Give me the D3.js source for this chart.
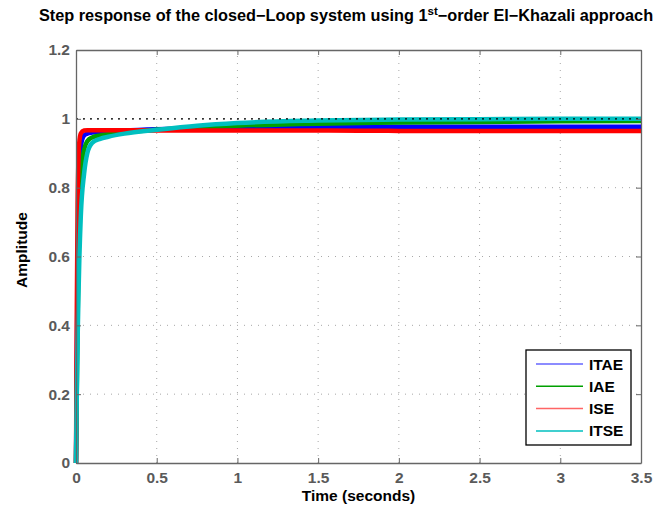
<!DOCTYPE html>
<html>
<head>
<meta charset="utf-8">
<script src="https://cdn.jsdelivr.net/npm/d3@7"></script>
<style>
body{margin:0;background:#fff;}
text{font-family:"Liberation Sans",Arial,Helvetica,sans-serif;font-weight:bold;}
</style>
</head>
<body>
<script>
var time  = [0,0.005,0.01,0.015,0.02,0.03,0.05,0.07,0.1,0.15,0.2,0.3,0.5,0.75,1,1.5,2,2.5,3,3.5];
var itae  = [0,0.30,0.55,0.72,0.83,0.92,0.952,0.957,0.96,0.962,0.963,0.966,0.970,0.973,0.975,0.976,0.977,0.977,0.977,0.977];
var iae   = [0,0.22,0.42,0.58,0.69,0.82,0.91,0.935,0.946,0.952,0.955,0.960,0.968,0.975,0.980,0.986,0.989,0.991,0.993,0.994];
var ise   = [0,0.45,0.75,0.88,0.93,0.958,0.966,0.967,0.967,0.967,0.967,0.967,0.966,0.966,0.966,0.966,0.965,0.965,0.965,0.965];
var itse  = [0,0.20,0.36,0.48,0.58,0.72,0.84,0.90,0.93,0.942,0.948,0.957,0.968,0.980,0.988,0.995,0.998,0.999,1.0,1.0];
var names = ["ITAE","IAE","ISE","ITSE"];
var colors = ["#0000ff","#00a000","#ff0000","#00bfbf"];
var xticks = [0,0.5,1,1.5,2,2.5,3,3.5];
var yticks = [0,0.2,0.4,0.6,0.8,1,1.2];

var W=658, H=509;
var m={l:76, r:17, t:50, b:46};
var svg=d3.select("body").append("svg").attr("width",W).attr("height",H);

var x=d3.scaleLinear().domain([0,3.5]).range([m.l,W-m.r]);
var y=d3.scaleLinear().domain([0,1.2]).range([H-m.b,m.t]);

// grid
var g=svg.append("g");
g.selectAll(".gx").data(xticks.slice(1,-1)).enter().append("line")
	.attr("x1",d=>x(d)).attr("x2",d=>x(d)).attr("y1",y(0)).attr("y2",y(1.2))
	.attr("stroke","#a8a8a8").attr("stroke-width",1).attr("stroke-dasharray","1,6");
g.selectAll(".gy").data(yticks.slice(1,-1)).enter().append("line")
	.attr("x1",x(0)).attr("x2",x(3.5)).attr("y1",d=>y(d)).attr("y2",d=>y(d))
	.attr("stroke","#a8a8a8").attr("stroke-width",1).attr("stroke-dasharray","1,6");

// curves
var series=[itae,iae,ise,itse];
var line=d3.line().x(d=>x(d[0])).y(d=>y(d[1])).curve(d3.curveMonotoneX);
series.forEach(function(s,i){
	svg.append("path").datum(time.map((t,j)=>[t,s[j]]))
		.attr("d",line).attr("fill","none").attr("stroke",colors[i])
		.attr("stroke-width",4.5).attr("stroke-linejoin","round");
});

// steady-state dotted line
svg.append("line").attr("x1",x(0)).attr("x2",x(3.5)).attr("y1",y(1)).attr("y2",y(1))
	.attr("stroke","#000").attr("stroke-width",1.2).attr("stroke-dasharray","2,5");

// axes (box with inward ticks)
var ac="#666";
var xb=svg.append("g").attr("transform","translate(0,"+y(0)+")")
	.call(d3.axisBottom(x).tickValues(xticks).tickSizeInner(-5).tickSizeOuter(0).tickPadding(9).tickFormat(d3.format("")));
var xt=svg.append("g").attr("transform","translate(0,"+y(1.2)+")")
	.call(d3.axisTop(x).tickValues(xticks).tickSizeInner(-5).tickSizeOuter(0).tickFormat(""));
var yl=svg.append("g").attr("transform","translate("+x(0)+",0)")
	.call(d3.axisLeft(y).tickValues(yticks).tickSizeInner(-5).tickSizeOuter(0).tickPadding(6).tickFormat(d3.format("")));
var yr=svg.append("g").attr("transform","translate("+x(3.5)+",0)")
	.call(d3.axisRight(y).tickValues(yticks).tickSizeInner(-5).tickSizeOuter(0).tickFormat(""));
[xb,xt,yl,yr].forEach(function(a){
	a.selectAll("path").attr("stroke",ac).attr("stroke-width",1.3);
	a.selectAll("line").attr("stroke",ac);
	a.selectAll("text").attr("fill","#5a5a5a").style("font-size","15.5px");
});

// title
var title=svg.append("text").attr("x",346).attr("y",21)
	.attr("text-anchor","middle").style("font-size","16.3px").attr("fill","#000");
title.append("tspan").text("Step response of the closed\u2212Loop system using 1");
title.append("tspan").attr("dy",-6).style("font-size","11.5px").text("st");
title.append("tspan").attr("dy",6).text("\u2212order El\u2212Khazali approach");

// axis labels
svg.append("text").attr("x",(x(0)+x(3.5))/2).attr("y",501).attr("text-anchor","middle")
	.style("font-size","15.5px").text("Time (seconds)");
svg.append("text").attr("transform","translate(27,250) rotate(-90)")
	.attr("text-anchor","middle").style("font-size","15.5px").text("Amplitude");

// legend
var lg=svg.append("g").attr("transform","translate(526,350)");
lg.append("rect").attr("width",105).attr("height",95).attr("fill","#fff")
	.attr("stroke","#000").attr("stroke-width",1.3);
names.forEach(function(n,i){
	var yy=14+i*22.3;
	lg.append("line").attr("x1",10).attr("x2",57).attr("y1",yy).attr("y2",yy)
		.attr("stroke",colors[i]).attr("stroke-width",1.5).attr("opacity",i==0||i==2?0.6:1);
	lg.append("text").attr("x",63).attr("y",yy+5.5).style("font-size","15.5px").text(n);
});
</script>
</body>
</html>
